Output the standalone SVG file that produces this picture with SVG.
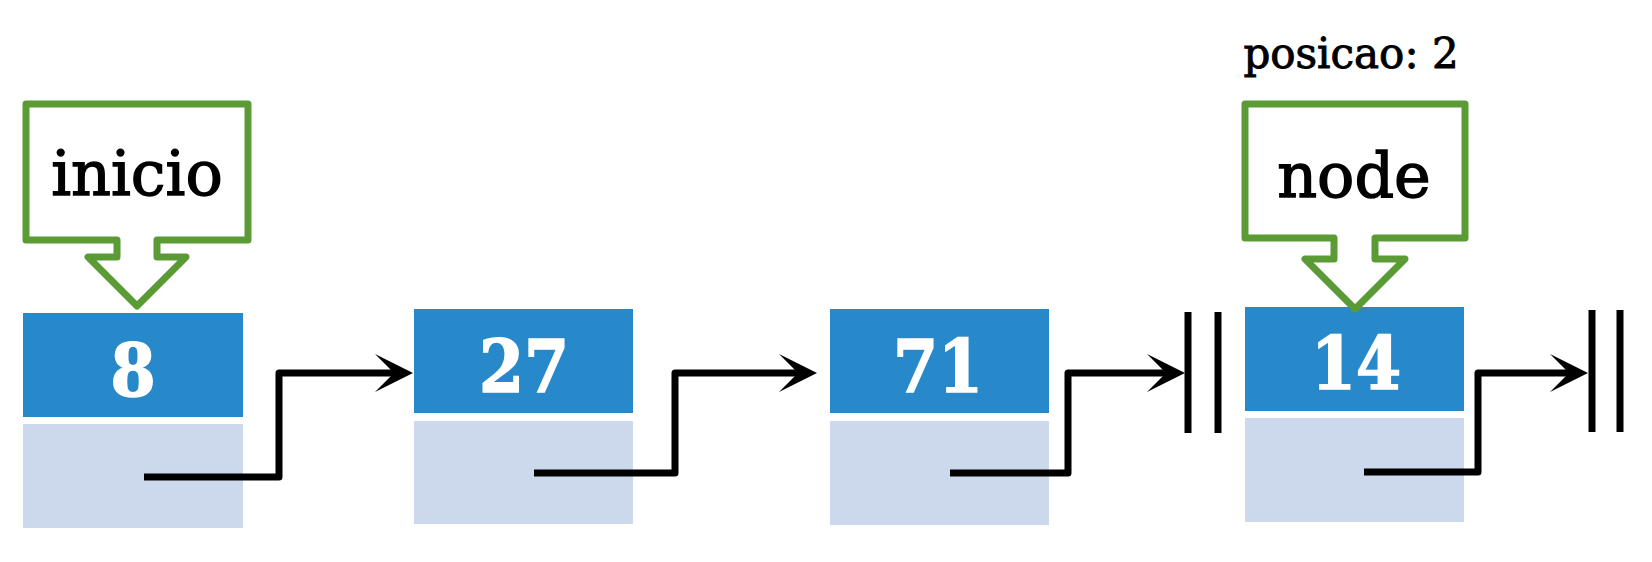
<svg xmlns="http://www.w3.org/2000/svg" width="1652" height="562" viewBox="0 0 1652 562">
<style>
.val{fill:#2788CA}
.ptr{fill:#CCD9EC}
.num{font-family:"DejaVu Serif Condensed","DejaVu Serif",serif;font-weight:bold;font-size:72px;fill:#fff;stroke:#fff;stroke-width:1.5;text-anchor:middle}
.call{fill:#fff;stroke:#5B9B36;stroke-width:7;stroke-linejoin:round}
.lbl{font-family:"DejaVu Serif",serif;font-size:62px;fill:#000;stroke:#000;stroke-width:1.4;text-anchor:middle}
.pos{font-family:"DejaVu Serif",serif;font-size:42px;fill:#000;stroke:#000;stroke-width:0.9;text-anchor:middle}
.link{fill:none;stroke:#000;stroke-width:7;stroke-linejoin:round}
.nul{stroke:#000;stroke-width:7}
</style>
<defs>
<marker id="ah" markerUnits="userSpaceOnUse" viewBox="0 0 40 40" markerWidth="40" markerHeight="40" refX="19" refY="20" orient="auto">
<path d="M0,1 L38,20 L0,39 L19,20 Z" fill="#000"/>
</marker>
</defs>
<g id="node1">
<rect class="val" x="23" y="313" width="220" height="104"/>
<rect class="ptr" x="23" y="424" width="220" height="104"/>
<text class="num" x="133" y="396">8</text>
</g>
<g id="node2">
<rect class="val" x="414" y="309" width="219" height="104"/>
<rect class="ptr" x="414" y="421" width="219" height="103"/>
<text class="num" x="524" y="392">27</text>
</g>
<g id="node3">
<rect class="val" x="830" y="309" width="219" height="104"/>
<rect class="ptr" x="830" y="421" width="219" height="104"/>
<text class="num" x="938" y="392">71</text>
</g>
<g id="node4">
<rect class="val" x="1245" y="307" width="219" height="104"/>
<rect class="ptr" x="1245" y="418" width="219" height="104"/>
<text class="num" x="1356" y="389">14</text>
</g>
<g id="inicio">
<path class="call" d="M26,104 H248 V240 H157 V257 H186 L137,306 L88,257 H117 V240 H26 Z"/>
<text class="lbl" x="137" y="195">inicio</text>
</g>
<g id="node-ptr">
<path class="call" d="M1245,104 H1465 V238 H1375 V259 H1405 L1355,309 L1305,259 H1334 V238 H1245 Z"/>
<text class="lbl" x="1354" y="197">node</text>
<text class="pos" x="1351" y="68">posicao: 2</text>
</g>
<g id="null1">
<line class="nul" x1="1188" y1="312" x2="1188" y2="433"/>
<line class="nul" x1="1218" y1="312" x2="1218" y2="433"/>
</g>
<g id="null2">
<line class="nul" x1="1592" y1="310" x2="1592" y2="432"/>
<line class="nul" x1="1620" y1="310" x2="1620" y2="432"/>
</g>
<g id="connectors">
<path class="link" marker-end="url(#ah)" d="M144,477 H279 V373 H394"/>
<path class="link" marker-end="url(#ah)" d="M534,473 H675 V373 H798"/>
<path class="link" marker-end="url(#ah)" d="M950,473 H1068 V373 H1166"/>
<path class="link" marker-end="url(#ah)" d="M1364,472 H1478 V373 H1569"/>
</g>
</svg>
